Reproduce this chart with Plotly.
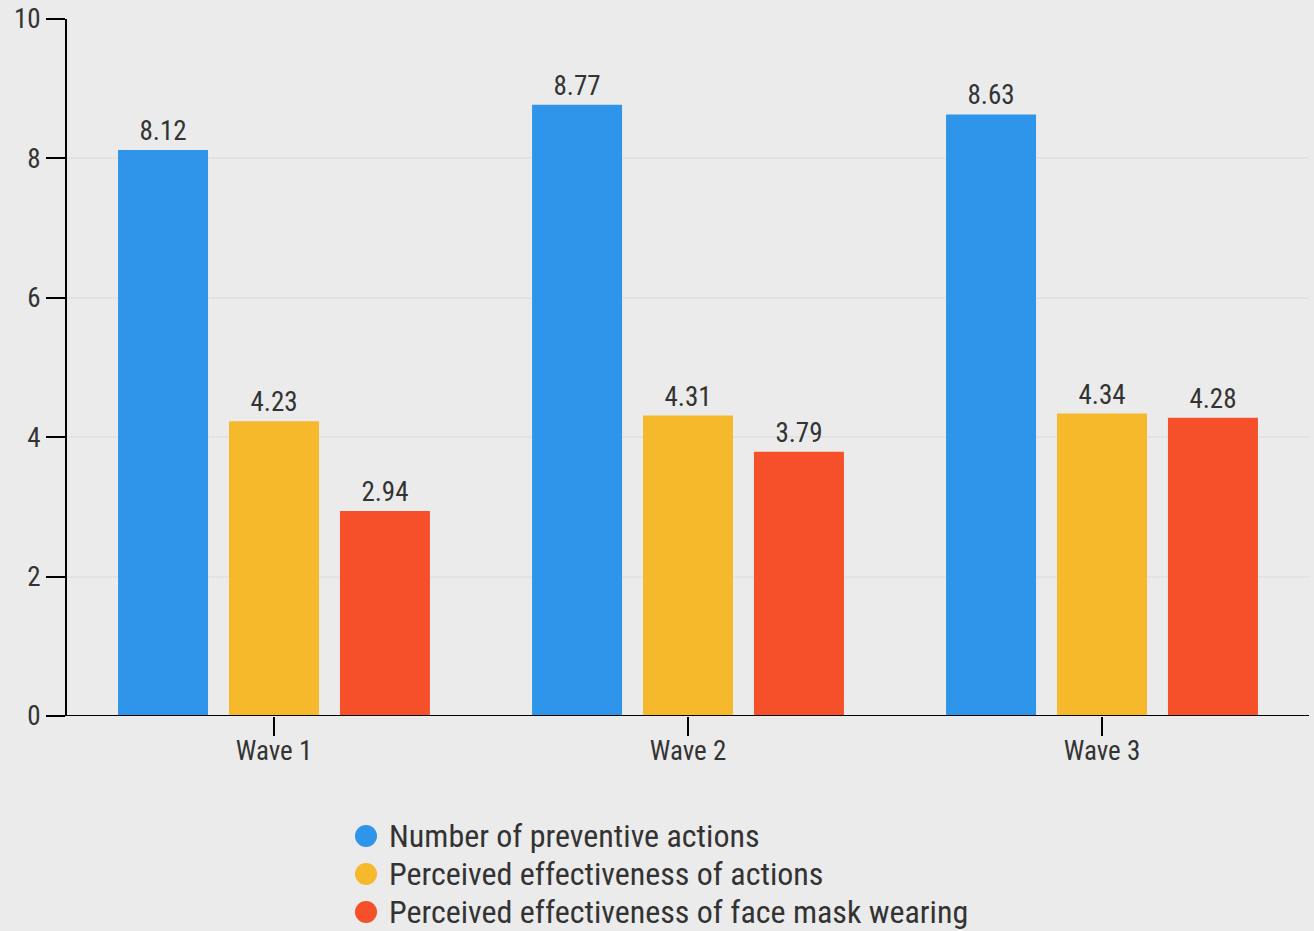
import plotly.graph_objects as go

categories = ["Wave 1", "Wave 2", "Wave 3"]
series_names = ["Number of preventive actions", "Perceived effectiveness of actions",
                "Perceived effectiveness of face mask wearing"]
preventive = [8.12, 8.77, 8.63]
eff_actions = [4.23, 4.31, 4.34]
eff_mask = [2.94, 3.79, 4.28]
colors = ["#2f95ea", "#f6b92b", "#f6502b"]
y_ticks = [0, 2, 4, 6, 8, 10]

FONT = "Roboto Condensed, Liberation Sans Narrow, Roboto, sans-serif"

fig = go.Figure()
for name, vals, c in zip(series_names, [preventive, eff_actions, eff_mask], colors):
    fig.add_trace(go.Bar(
        x=categories, y=vals, name=name, marker=dict(color=c, line=dict(width=0)),
        text=[f"{v:.2f}" for v in vals], textposition="outside",
        textfont=dict(size=27, color="#333333", family=FONT),
        cliponaxis=False, showlegend=False,
    ))

# custom legend (circle markers + labels) placed in paper coordinates below the plot
PLOT_L, PLOT_W, PLOT_B, PLOT_H = 67, 1242, 716, 697
shapes = [dict(type="line", xref="paper", yref="y", x0=-0.0153, x1=1.0, y0=0, y1=0,
               line=dict(color="black", width=2))]
annotations = []
for i, (name, c) in enumerate(zip(series_names, colors)):
    cy = 836 + 38 * i
    yc = (PLOT_B - cy) / PLOT_H
    r = 11
    shapes.append(dict(type="circle", xref="paper", yref="paper",
                       x0=(366 - r - PLOT_L) / PLOT_W, x1=(366 + r - PLOT_L) / PLOT_W,
                       y0=yc - r / PLOT_H, y1=yc + r / PLOT_H,
                       fillcolor=c, line=dict(width=0)))
    annotations.append(dict(text=name, xref="paper", yref="paper",
                            x=(387 - PLOT_L) / PLOT_W, y=yc, xanchor="left", yanchor="middle",
                            showarrow=False, font=dict(size=32, color="#333333", family=FONT)))

fig.update_layout(
    width=1314, height=931,
    paper_bgcolor="#ebebeb", plot_bgcolor="#ebebeb",
    margin=dict(l=67, r=5, t=19, b=215, autoexpand=False),
    barmode="group", bargap=0.196, bargroupgap=0.189,
    font=dict(family=FONT, color="#333333", size=27),
    showlegend=False,
    xaxis=dict(showline=False, ticks="outside", ticklen=19, tickwidth=2,
               tickcolor="black", tickfont=dict(size=27, color="#333333"),
               ticklabelstandoff=-8),
    yaxis=dict(range=[0, 10], tickvals=y_ticks, showline=True, linecolor="black",
               linewidth=2, ticks="outside", ticklen=19, tickwidth=2,
               tickcolor="black", showgrid=True, gridcolor="#e3e3e3", gridwidth=2,
               zeroline=False, tickfont=dict(size=27, color="#333333")),
    shapes=shapes,
    annotations=annotations,
)

fig.write_html("out.html")
